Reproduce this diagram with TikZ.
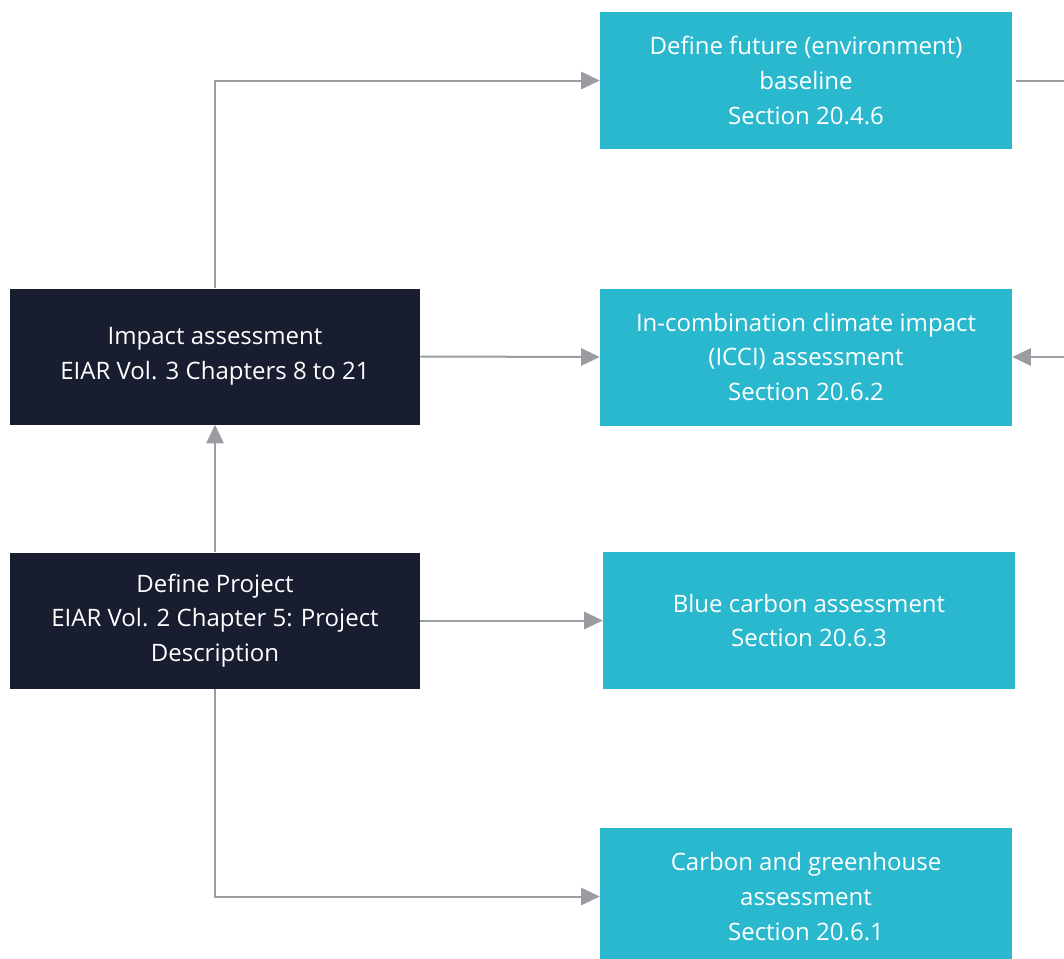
\documentclass[tikz,border=0pt]{standalone}
\usepackage{fontspec}
\setmainfont{Open Sans}
\usetikzlibrary{arrows.meta}
\definecolor{cyanbox}{HTML}{29B8CE}
\definecolor{navybox}{HTML}{181D30}
\definecolor{linkgrey}{HTML}{9B9CA1}
\begin{document}
\begin{tikzpicture}[x=0.75pt,y=-0.75pt,
  cbox/.style={rectangle, fill=cyanbox, text=white, align=center,
    minimum width=309pt, minimum height=102.75pt, inner sep=0pt,
    font=\fontsize{18}{26}\selectfont},
  nbox/.style={rectangle, fill=navybox, text=white, align=center,
    minimum width=307.5pt, minimum height=102pt, inner sep=0pt,
    font=\fontsize{18}{26}\selectfont},
  link/.style={draw=linkgrey, line width=1.5pt},
  arr/.style={link, -{Triangle[length=14pt,width=13pt]}}]
\useasboundingbox (0,0) rectangle (1064,958);
\fill[white] (0,0) rectangle (1064,958);

% assessment stages
\node[cbox] (fut)  at (806,80.5)  {Define future (environment)\\baseline\\Section 20.4.6};
\node[cbox] (icci) at (806,357)   {In-combination climate impact\\(ICCI) assessment\\Section 20.6.2};
\node[cbox] (blue) at (809,620.5) {Blue carbon assessment\\Section 20.6.3};
\node[cbox] (carb) at (806,896.5) {Carbon and greenhouse\\assessment\\Section 20.6.1};

% inputs
\node[nbox] (imp)  at (215,356.5) {Impact assessment\\EIAR Vol. 3 Chapters 8 to 21};
\node[nbox] (proj) at (215,620.5) {Define Project\\EIAR Vol. 2 Chapter 5: Project\\Description};

% free ends at the right margin
\coordinate (outF) at (1064,80.5);
\coordinate (inI)  at (1064,357);

% connectors
\draw[arr] (imp.north) |- (fut.west);
\draw[arr] (imp.east) -- (icci.west);
\draw[arr] (proj.north) -- (imp.south);
\draw[arr] (proj.east) -- (blue.west);
\draw[arr] (proj.south) |- (carb.west);
\draw[link] ([xshift=3pt]fut.east) -- (outF);
\draw[arr] (inI) -- (icci.east);
\end{tikzpicture}
\end{document}
